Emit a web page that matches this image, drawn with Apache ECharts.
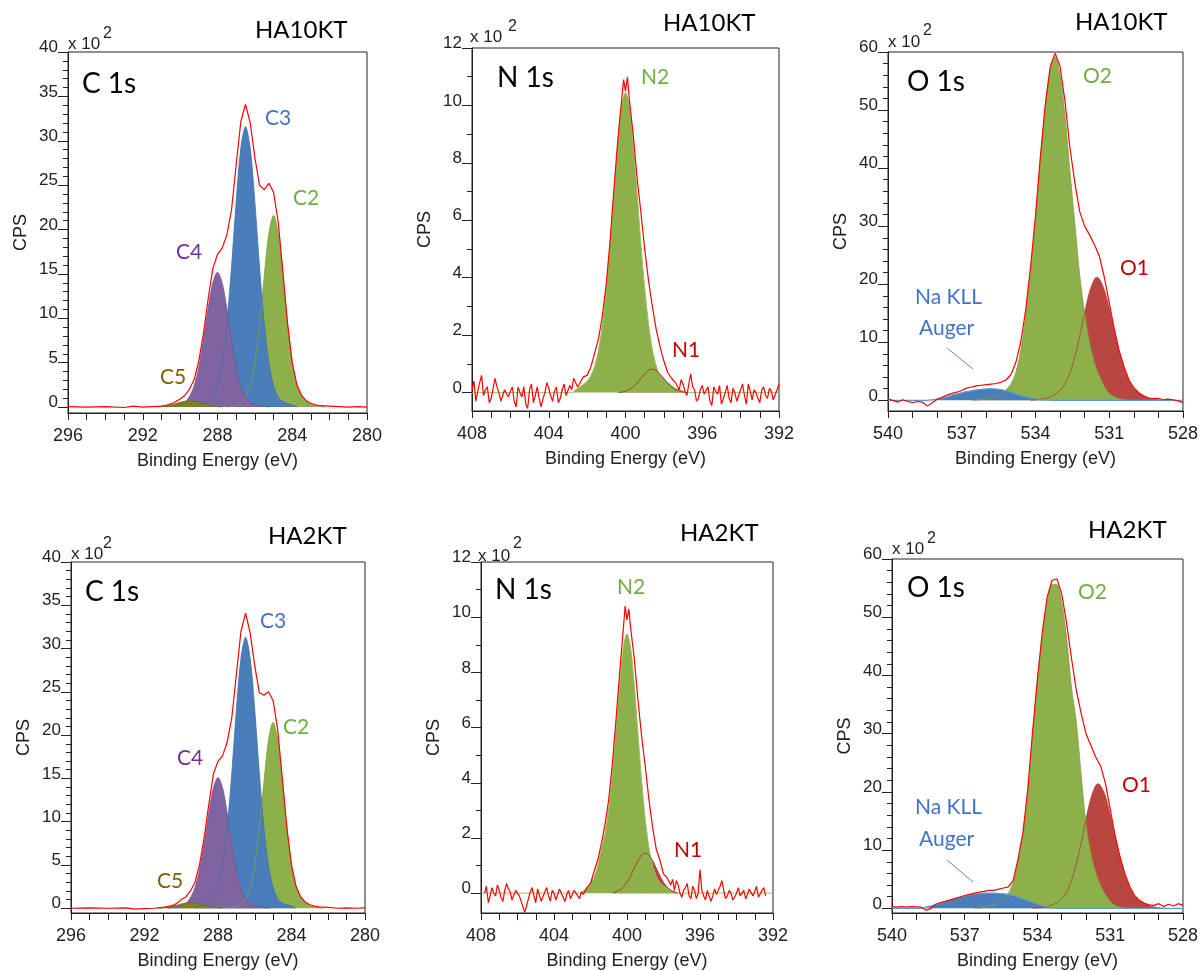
<!DOCTYPE html>
<html><head><meta charset="utf-8">
<script src="https://cdn.jsdelivr.net/npm/echarts@6/dist/echarts.min.js"></script>
<style>html,body{margin:0;padding:0;background:#fff}#c{width:1201px;height:971px}</style>
</head><body><div id="c"></div>
<script>
// ================= DATA (CPS in units of 10^2) =================
const sampleTitles = ['HA10KT', 'HA10KT', 'HA10KT', 'HA2KT', 'HA2KT', 'HA2KT'];
const regionNames = ['C 1s', 'N 1s', 'O 1s', 'C 1s', 'N 1s', 'O 1s'];
const cPeakNames = ['C3', 'C2', 'C4', 'C5'];
const nPeakNames = ['N2', 'N1'];
const oPeakNames = ['O2', 'O1', 'Na KLL', 'Auger'];

const cXLabels = [280, 284, 288, 292, 296];
const nXLabels = [392, 396, 400, 404, 408];
const oXLabels = [528, 531, 534, 537, 540];
const cYMajor = [0, 5, 10, 15, 20, 25, 30, 35, 40];
const cYMinor = [1, 2, 3, 4, 6, 7, 8, 9, 11, 12, 13, 14, 16, 17, 18, 19, 21, 22, 23, 24, 26, 27, 28, 29, 31, 32, 33, 34, 36, 37, 38, 39];
const nYMajor = [0, 2, 4, 6, 8, 10, 12];
const nYMinor = [1, 3, 5, 7, 9, 11];
const oYMajor = [0, 10, 20, 30, 40, 50, 60];
const oYMinor = [2, 4, 6, 8, 12, 14, 16, 18, 22, 24, 26, 28, 32, 34, 36, 38, 42, 44, 46, 48, 52, 54, 56, 58];

// ---- C 1s, HA10KT ----
const c10_C2 = [[287.5,0],[287.25,0.1],[287,0.2],[286.75,0.45],[286.5,1.0],[286.25,2.3],[286,4.9],[285.75,9.2],[285.5,14.7],[285.25,19.6],[285,21.6],[284.75,19.6],[284.5,14.7],[284.25,9.2],[284,4.9],[283.75,2.4],[283.5,1.2],[283.25,0.6],[283,0.3],[282.75,0.15],[282.5,0.05],[282.25,0]];
const c10_C3 = [[289.25,0],[289,0.25],[288.75,0.4],[288.5,0.6],[288.25,1.1],[288,2.4],[287.75,5.0],[287.5,9.4],[287.25,15.8],[287,23.1],[286.75,29.2],[286.5,31.6],[286.25,29.2],[286,23.1],[285.75,15.8],[285.5,9.4],[285.25,5.0],[285,2.4],[284.75,1.1],[284.5,0.6],[284.25,0.4],[284,0.25],[283.75,0]];
const c10_C4 = [[290.75,0],[290.5,0.1],[290.25,0.2],[290,0.3],[289.75,0.55],[289.5,1.2],[289.25,2.4],[289,4.5],[288.75,7.6],[288.5,11.1],[288.25,14.0],[288,15.2],[287.75,14.0],[287.5,11.1],[287.25,7.6],[287,4.5],[286.75,2.4],[286.5,1.2],[286.25,0.55],[286,0.3],[285.75,0.2],[285.5,0.1],[285.25,0]];
const c10_C5 = [[291.25,0],[291,0.07],[290.75,0.14],[290.5,0.24],[290.25,0.38],[290,0.53],[289.75,0.65],[289.5,0.7],[289.25,0.65],[289,0.53],[288.75,0.38],[288.5,0.24],[288.25,0.14],[288,0.07],[287.75,0]];
const c10_env = [[296,0.05],[295,0],[294,0.05],[293,-0.05],[292.5,0.1],[292,0],[291.5,0.05],[291,0.1],[290.75,0.2],[290.5,0.35],[290.25,0.6],[290,0.9],[289.75,1.3],[289.5,2.0],[289.25,3.1],[289,5.2],[288.75,8.3],[288.5,12.2],[288.25,15.6],[288,17.2],[287.75,17.9],[287.5,19.4],[287.25,22.2],[287,27.3],[286.75,32.2],[286.5,34.1],[286.25,32.0],[286,28.1],[285.75,25.0],[285.5,24.5],[285.25,25.2],[285,24.2],[284.75,20.8],[284.5,15.2],[284.25,9.4],[284,5.0],[283.75,2.5],[283.5,1.3],[283.25,0.7],[283,0.4],[282.75,0.25],[282.5,0.15],[282,0.1],[281.5,0.05],[281,0],[280.5,0.05],[280,0]];

// ---- N 1s, HA10KT ----
const n10_N2 = [[408,0],[402.8,0],[402.6,0.1],[402.4,0.2],[402.2,0.28],[402,0.4],[401.8,0.6],[401.6,0.94],[401.4,1.5],[401.2,2.4],[401,3.65],[400.8,5.2],[400.6,7.0],[400.4,8.7],[400.2,10.0],[400,10.45],[399.8,10.0],[399.6,8.7],[399.4,7.0],[399.2,5.2],[399,3.65],[398.8,2.4],[398.6,1.5],[398.4,0.94],[398.2,0.6],[398,0.42],[397.8,0.35],[397.6,0.25],[397.4,0.15],[397.2,0.12],[397,0.06],[396.8,0],[392,0]];
const n10_N1 = [[400.4,0],[400.2,0.02],[400,0.05],[399.8,0.11],[399.6,0.2],[399.4,0.33],[399.2,0.49],[399,0.64],[398.8,0.77],[398.6,0.82],[398.4,0.77],[398.2,0.64],[398,0.49],[397.8,0.33],[397.6,0.2],[397.4,0.11],[397.2,0.05],[397,0.02],[396.8,0]];
const n10_env = [[408,0.1],[407.9,0.4],[407.8,-0.3],[407.7,0.05],[407.6,0.35],[407.5,0.6],[407.4,-0.1],[407.3,0.1],[407.2,0.2],[407.1,-0.35],[407,-0.2],[406.9,0.15],[406.8,0.5],[406.7,0.2],[406.6,0],[406.5,-0.3],[406.4,-0.25],[406.3,0.1],[406.2,0.15],[406.1,-0.15],[406,0.05],[405.9,0.2],[405.8,-0.3],[405.7,-0.5],[405.6,0.2],[405.5,0],[405.4,-0.15],[405.3,0.2],[405.2,-0.4],[405.1,-0.55],[405,0.1],[404.9,0.3],[404.8,-0.35],[404.7,-0.1],[404.6,0.2],[404.5,-0.2],[404.4,-0.5],[404.3,-0.2],[404.2,0],[404.1,0.35],[404,0.15],[403.9,-0.1],[403.8,-0.3],[403.7,0.05],[403.6,0.2],[403.5,-0.35],[403.4,-0.2],[403.3,0.1],[403.2,0.3],[403.1,-0.1],[403,-0.15],[402.9,0.25],[402.8,0.1],[402.7,0.5],[402.6,0.45],[402.5,0.2],[402.4,0.3],[402.2,0.55],[402,0.6],[401.8,0.9],[401.6,1.4],[401.4,1.9],[401.2,2.7],[401,3.8],[400.8,5.3],[400.6,7.1],[400.4,8.8],[400.2,10.2],[400.1,10.9],[400,10.5],[399.9,11.0],[399.8,10.2],[399.6,9.0],[399.4,7.5],[399.2,6.3],[399,5.0],[398.8,3.9],[398.6,3.0],[398.4,2.2],[398.2,1.6],[398,1.1],[397.8,0.7],[397.6,0.5],[397.4,0.35],[397.2,0.1],[397.1,0.45],[397,0.3],[396.9,0.05],[396.8,-0.1],[396.7,0.3],[396.6,0.65],[396.5,0.2],[396.4,0.1],[396.3,-0.3],[396.2,-0.2],[396.1,0.1],[396,0.25],[395.9,-0.05],[395.8,-0.1],[395.7,0.2],[395.6,-0.3],[395.5,-0.45],[395.4,0.2],[395.3,0.05],[395.2,-0.05],[395.1,0.25],[395,-0.4],[394.9,-0.2],[394.8,0],[394.7,0.25],[394.6,-0.2],[394.5,-0.35],[394.4,0.15],[394.3,0],[394.2,-0.3],[394.1,-0.1],[394,0.1],[393.9,0.3],[393.8,-0.1],[393.7,-0.4],[393.6,0.3],[393.5,0.05],[393.4,-0.25],[393.3,0.1],[393.2,0],[393.1,-0.2],[393,-0.35],[392.9,0.1],[392.8,0.2],[392.7,-0.1],[392.6,-0.2],[392.5,0.15],[392.4,0.05],[392.3,-0.25],[392.2,-0.3],[392.1,0.1],[392,0.3]];

// ---- O 1s, HA10KT ----
const o10_O2 = [[536.6,0],[536.4,0.05],[536.2,0.15],[536,0.3],[535.8,0.5],[535.6,0.8],[535.4,1.2],[535.2,1.8],[535,2.8],[534.8,4.8],[534.6,8.5],[534.4,14.5],[534.2,22.0],[534,31.0],[533.8,41.5],[533.6,50.5],[533.4,57.0],[533.2,59.2],[533,56.0],[532.8,49.0],[532.6,39.5],[532.4,30.5],[532.2,21.5],[532,15.0],[531.8,10.0],[531.6,6.5],[531.4,4.2],[531.2,2.4],[531,1.2],[530.8,0.6],[530.6,0.3],[530.4,0.1],[530.2,0]];
const o10_O1 = [[534.2,0],[534,0.1],[533.8,0.2],[533.6,0.35],[533.4,0.6],[533.2,1.0],[533,1.7],[532.8,2.8],[532.6,4.7],[532.4,7.5],[532.2,11.1],[532,15.1],[531.8,18.7],[531.6,20.9],[531.5,21.2],[531.4,20.9],[531.2,19.0],[531,15.8],[530.8,12.0],[530.6,8.5],[530.4,5.6],[530.2,3.4],[530,2.0],[529.8,1.2],[529.6,0.7],[529.4,0.4],[529.2,0.2],[529,0.1],[528.8,0]];
const o10_Auger = [[540,0],[538.4,0],[538.2,0.1],[538,0.2],[537.8,0.35],[537.6,0.55],[537.4,0.9],[537.2,1.1],[537,1.3],[536.8,1.5],[536.6,1.65],[536.4,1.8],[536.2,1.9],[536,1.97],[535.8,2.0],[535.6,1.95],[535.4,1.85],[535.2,1.65],[535,1.4],[534.8,1.1],[534.6,0.85],[534.4,0.6],[534.2,0.4],[534,0.25],[533.8,0.15],[533.6,0.08],[533.4,0.04],[533.2,0],[528,0]];
const o10_env = [[540,0.2],[539.8,0],[539.6,-0.3],[539.4,0.1],[539.2,-0.2],[539,-0.4],[538.8,-0.2],[538.6,-0.3],[538.4,-1.0],[538.2,-0.4],[538,0.2],[537.8,0.5],[537.6,0.9],[537.4,1.2],[537.2,1.4],[537,1.7],[536.8,2.1],[536.6,2.3],[536.4,2.5],[536.2,2.6],[536,2.7],[535.8,2.8],[535.6,2.9],[535.4,3.1],[535.2,3.5],[535,4.4],[534.8,6.5],[534.6,10.0],[534.4,15.5],[534.2,23.0],[534,31.8],[533.8,42.0],[533.6,51.0],[533.4,57.5],[533.2,59.8],[533,57.5],[532.8,51.5],[532.6,43.5],[532.4,37.5],[532.2,32.5],[532,30.0],[531.8,28.5],[531.6,26.8],[531.4,24.8],[531.2,21.2],[531,16.8],[530.8,12.4],[530.6,8.6],[530.4,5.8],[530.2,3.5],[530,2.2],[529.8,1.3],[529.6,0.8],[529.4,0.4],[529.2,0.3],[529,0.35],[528.8,0.1],[528.6,0.2],[528.4,0.1],[528.2,-0.1],[528,-0.4]];

// ---- C 1s, HA2KT ----
const c2_C2 = [[287.5,0],[287.25,0.1],[287,0.2],[286.75,0.45],[286.5,1.0],[286.25,2.3],[286,4.9],[285.75,9.2],[285.5,14.6],[285.25,19.5],[285,21.5],[284.75,19.5],[284.5,14.6],[284.25,9.2],[284,4.9],[283.75,2.4],[283.5,1.2],[283.25,0.6],[283,0.3],[282.75,0.15],[282.5,0.05],[282.25,0]];
const c2_C3 = [[289.25,0],[289,0.25],[288.75,0.4],[288.5,0.6],[288.25,1.1],[288,2.4],[287.75,4.9],[287.5,9.3],[287.25,15.6],[287,22.9],[286.75,28.9],[286.5,31.3],[286.25,28.9],[286,22.9],[285.75,15.6],[285.5,9.3],[285.25,4.9],[285,2.4],[284.75,1.1],[284.5,0.6],[284.25,0.4],[284,0.25],[283.75,0]];
const c2_C4 = [[290.75,0],[290.5,0.1],[290.25,0.2],[290,0.3],[289.75,0.55],[289.5,1.2],[289.25,2.4],[289,4.5],[288.75,7.5],[288.5,11.0],[288.25,13.9],[288,15.1],[287.75,13.9],[287.5,11.0],[287.25,7.5],[287,4.5],[286.75,2.4],[286.5,1.2],[286.25,0.55],[286,0.3],[285.75,0.2],[285.5,0.1],[285.25,0]];
const c2_C5 = [[291.25,0],[291,0.06],[290.75,0.12],[290.5,0.22],[290.25,0.35],[290,0.5],[289.75,0.6],[289.5,0.65],[289.25,0.6],[289,0.5],[288.75,0.35],[288.5,0.22],[288.25,0.12],[288,0.06],[287.75,0]];
const c2_env = [[296,0],[295,0.05],[294,0],[293,0.05],[292.5,-0.1],[292,-0.05],[291.5,0],[291,0.1],[290.75,0.2],[290.5,0.3],[290.25,0.55],[290,1.0],[289.75,1.3],[289.5,2.0],[289.25,3.0],[289,5.1],[288.75,8.2],[288.5,12.0],[288.25,15.5],[288,17.0],[287.75,17.6],[287.5,19.2],[287.25,22.0],[287,27.0],[286.75,32.0],[286.5,34.1],[286.25,31.8],[286,28.0],[285.75,24.9],[285.5,24.6],[285.25,25.0],[285,24.0],[284.75,20.6],[284.5,15.0],[284.25,9.3],[284,5.0],[283.75,2.5],[283.5,1.3],[283.25,0.7],[283,0.4],[282.75,0.25],[282.5,0.15],[282,0.1],[281.5,0],[281,0.05],[280.5,0],[280,0.05]];

// ---- N 1s, HA2KT ----
const n2_N2 = [[408,0],[402.6,0],[402.4,0.08],[402.2,0.18],[402,0.35],[401.8,0.6],[401.6,1.0],[401.4,1.6],[401.2,2.2],[401,3.1],[400.8,4.4],[400.6,6.0],[400.4,7.6],[400.2,8.9],[400,9.4],[399.8,8.9],[399.6,7.55],[399.4,5.8],[399.2,4.1],[399,2.7],[398.8,1.66],[398.6,1.0],[398.4,0.6],[398.2,0.38],[398,0.26],[397.8,0.18],[397.6,0.1],[397.4,0],[392,0]];
const n2_N1 = [[400.8,0],[400.6,0.05],[400.4,0.11],[400.2,0.22],[400,0.39],[399.8,0.63],[399.6,0.91],[399.4,1.18],[399.2,1.38],[399,1.45],[398.8,1.38],[398.6,1.18],[398.4,0.91],[398.2,0.63],[398,0.39],[397.8,0.22],[397.6,0.11],[397.4,0.05],[397.2,0]];
const n2_env = [[407.8,0],[407.7,0.25],[407.6,-0.35],[407.5,-0.1],[407.4,0.2],[407.3,0],[407.2,-0.1],[407.1,0.3],[407,0.1],[406.9,-0.15],[406.8,-0.3],[406.7,0.1],[406.6,0.35],[406.5,0.15],[406.4,0.05],[406.3,-0.25],[406.2,-0.2],[406.1,0.1],[406,0.15],[405.9,-0.1],[405.8,-0.3],[405.7,-0.5],[405.6,-0.7],[405.5,-0.45],[405.4,-0.2],[405.3,0.05],[405.2,0.2],[405.1,-0.1],[405,-0.35],[404.9,0.15],[404.8,0.1],[404.7,-0.3],[404.6,-0.25],[404.5,0.05],[404.4,0.2],[404.3,-0.1],[404.2,-0.3],[404.1,0.1],[404,0],[403.9,-0.25],[403.8,-0.2],[403.7,0.15],[403.6,0.1],[403.5,-0.15],[403.4,-0.3],[403.3,-0.05],[403.2,0.1],[403.1,-0.2],[403,-0.15],[402.9,0.1],[402.8,0.05],[402.7,-0.1],[402.6,-0.2],[402.5,0.05],[402.4,-0.05],[402.2,0.2],[402,0.35],[401.8,0.8],[401.6,1.2],[401.4,1.8],[401.2,2.5],[401,3.4],[400.8,4.7],[400.6,6.3],[400.4,8.0],[400.2,9.6],[400.1,10.4],[400,9.9],[399.9,10.3],[399.8,9.6],[399.6,8.5],[399.4,7.0],[399.2,5.7],[399,4.6],[398.8,3.4],[398.6,2.4],[398.4,1.6],[398.2,1.2],[398,0.7],[397.8,0.55],[397.6,0.3],[397.5,0.5],[397.4,0.1],[397.3,0.45],[397.2,0.3],[397.1,0],[397,-0.15],[396.9,0.1],[396.8,0.2],[396.7,0.35],[396.6,-0.1],[396.5,-0.2],[396.4,0.25],[396.3,0.1],[396.2,-0.2],[396.1,0],[396,0.85],[395.9,0.1],[395.8,-0.1],[395.7,-0.25],[395.6,0.1],[395.5,0.05],[395.4,-0.3],[395.3,-0.1],[395.2,0.15],[395.1,-0.05],[395,0],[394.9,0.25],[394.8,0.45],[394.7,0.1],[394.6,-0.2],[394.5,-0.1],[394.4,0.1],[394.3,0],[394.2,-0.25],[394.1,-0.15],[394,0],[393.9,0.2],[393.8,-0.1],[393.7,0],[393.6,0.1],[393.5,-0.2],[393.4,-0.05],[393.3,0.15],[393.2,0.2],[393.1,-0.1],[393,0.05],[392.9,0.25],[392.8,-0.15],[392.7,-0.2],[392.6,0.1],[392.5,0.2],[392.4,-0.1]];

// ---- O 1s, HA2KT ----
const o2_O2 = [[536.6,0],[536.4,0.05],[536.2,0.15],[536,0.35],[535.8,0.6],[535.6,1.0],[535.4,1.6],[535.2,2.6],[535,4.5],[534.8,8.0],[534.6,12.5],[534.4,19.5],[534.2,29.5],[534,39.2],[533.8,46.5],[533.6,52.5],[533.4,55.6],[533.2,55.6],[533,52.5],[532.8,46.5],[532.6,38.0],[532.4,32.0],[532.2,23.0],[532,14.5],[531.8,9.5],[531.6,6.2],[531.4,4.0],[531.2,2.4],[531,1.2],[530.8,0.5],[530.6,0.2],[530.4,0]];
const o2_O1 = [[534.2,0],[534,0.1],[533.8,0.2],[533.6,0.35],[533.4,0.6],[533.2,1.0],[533,1.7],[532.8,2.8],[532.6,4.8],[532.4,7.6],[532.2,11.2],[532,15.3],[531.8,18.9],[531.6,21.1],[531.5,21.4],[531.4,21.1],[531.2,19.3],[531,16.0],[530.8,12.2],[530.6,8.7],[530.4,5.8],[530.2,3.6],[530,2.1],[529.8,1.3],[529.6,0.8],[529.4,0.45],[529.2,0.25],[529,0.1],[528.8,0]];
const o2_Auger = [[540,0],[538.8,0],[538.6,0.2],[538.4,0.4],[538.2,0.65],[538,0.9],[537.8,1.15],[537.6,1.4],[537.4,1.65],[537.2,1.9],[537,2.1],[536.8,2.3],[536.6,2.45],[536.4,2.55],[536.2,2.6],[536,2.6],[535.8,2.6],[535.6,2.55],[535.4,2.5],[535.2,2.4],[535,2.2],[534.8,1.9],[534.6,1.6],[534.4,1.3],[534.2,1.0],[534,0.7],[533.8,0.45],[533.6,0.25],[533.4,0.1],[533.2,0],[528,0]];
const o2_env = [[540,0.3],[539.8,0.2],[539.6,0.3],[539.4,0.2],[539.2,0.3],[539,0.25],[538.8,0.2],[538.6,-0.3],[538.4,-0.1],[538.2,0.7],[538,1.0],[537.8,1.2],[537.6,1.45],[537.4,1.7],[537.2,1.95],[537,2.2],[536.8,2.4],[536.6,2.6],[536.4,2.8],[536.2,2.9],[536,3.1],[535.8,3.1],[535.6,3.3],[535.4,3.5],[535.2,3.7],[535,4.8],[534.8,8.5],[534.6,13.0],[534.4,20.5],[534.2,30.5],[534,39.5],[533.8,47.5],[533.6,53.5],[533.4,56.3],[533.2,56.6],[533,54.0],[532.8,49.0],[532.6,43.0],[532.4,37.5],[532.2,33.5],[532,30.0],[531.8,28.0],[531.6,26.0],[531.4,24.5],[531.2,21.5],[531,17.0],[530.8,12.5],[530.6,8.9],[530.4,6.0],[530.2,3.8],[530,2.2],[529.8,1.4],[529.6,0.9],[529.4,0.6],[529.2,0.5],[529,0.8],[528.8,0.3],[528.6,0.7],[528.4,0.4],[528.2,0.8],[528,0.5]];

// ================= RENDERING =================
const AX = '#222';
const NUMF = '"Liberation Sans", Arial, sans-serif';
const TXTF = 'Lato, "Open Sans", sans-serif';
const COL = {
  env: '#FF0000',
  green: '#8DB04A', greenL: '#7E9F3C',
  blue: '#4A7EBB', blueL: '#3E6FAE',
  purple: '#8064A2', purpleL: '#6E5590',
  olive: '#80801C', oliveL: '#70700F',
  red: '#BA4642', redL: '#A63E38'
};

const layout = [
  { left: 68, top: 52, width: 299, height: 361, ymin: -0.67, ymax: 40, x: [280, 296], xl: cXLabels, yMaj: cYMajor, yMin: cYMinor },
  { left: 472, top: 48, width: 307, height: 363, ymin: -0.64, ymax: 12, x: [392, 408], xl: nXLabels, yMaj: nYMajor, yMin: nYMinor },
  { left: 888, top: 52, width: 296, height: 359, ymin: -1.84, ymax: 60, x: [528, 540], xl: oXLabels, yMaj: oYMajor, yMin: oYMinor },
  { left: 71, top: 562, width: 294, height: 353, ymin: -0.55, ymax: 40, x: [280, 296], xl: cXLabels, yMaj: cYMajor, yMin: cYMinor },
  { left: 481, top: 562, width: 292, height: 355, ymin: -0.72, ymax: 12, x: [392, 408], xl: nXLabels, yMaj: nYMajor, yMin: nYMinor },
  { left: 892, top: 559, width: 296, height: 356, ymin: -0.8, ymax: 60, x: [528, 540], xl: oXLabels, yMaj: oYMajor, yMin: oYMinor }
];

const grids = [], xAxes = [], yAxes = [], series = [];
layout.forEach((L, i) => {
  grids.push({ left: L.left, top: L.top, width: L.width, height: L.height, show: true, borderColor: AX, borderWidth: 1, backgroundColor: 'transparent' });
  xAxes.push({
    type: 'value', gridIndex: i, min: L.x[0], max: L.x[1], inverse: true, interval: 1,
    name: 'Binding Energy (eV)', nameLocation: 'middle', nameGap: 39,
    nameTextStyle: { fontFamily: NUMF, fontSize: 18, color: AX },
    axisLine: { show: true, onZero: false, lineStyle: { color: AX, width: 1 } },
    axisTick: { show: true, length: 7, lineStyle: { color: AX } },
    axisLabel: { show: true, margin: 14, fontFamily: NUMF, fontSize: 18, color: AX, showMinLabel: true, showMaxLabel: true,
      formatter: v => (L.xl.indexOf(Math.round(v)) >= 0 && Math.abs(v - Math.round(v)) < 1e-6) ? String(Math.round(v)) : '' },
    splitLine: { show: false }
  });
  yAxes.push({
    type: 'value', gridIndex: i, position: 'left', min: L.ymin, max: L.ymax,
    name: 'CPS', nameLocation: 'middle', nameGap: 38, nameRotate: 90,
    nameTextStyle: { fontFamily: NUMF, fontSize: 18, color: AX },
    axisLine: { show: true, onZero: false, lineStyle: { color: AX, width: 1 } },
    axisTick: { show: true, inside: false, length: 10, customValues: L.yMaj, lineStyle: { color: AX } },
    axisLabel: { show: true, customValues: L.yMaj, margin: 10, fontFamily: NUMF, fontSize: 17, color: AX, verticalAlign: 'bottom', lineHeight: 9 },
    splitLine: { show: false }
  });
  yAxes.push({
    type: 'value', gridIndex: i, position: 'left', offset: 0, min: L.ymin, max: L.ymax,
    axisLine: { show: false, onZero: false },
    axisTick: { show: true, inside: false, length: 5, customValues: L.yMin, lineStyle: { color: AX } },
    axisLabel: { show: false }, splitLine: { show: false }
  });
});

function fill(i, data, color) {
  series.push({ type: 'line', xAxisIndex: i, yAxisIndex: 2 * i, data, symbol: 'none', smooth: 0.3, silent: true,
    lineStyle: { width: 0 }, areaStyle: { color, opacity: 1 } });
}
function outline(i, data, color, w) {
  series.push({ type: 'line', xAxisIndex: i, yAxisIndex: 2 * i, data, symbol: 'none', smooth: 0.3, silent: true,
    lineStyle: { width: w || 0.8, color } });
}
function envelope(i, data) {
  series.push({ type: 'line', xAxisIndex: i, yAxisIndex: 2 * i, data, symbol: 'none', smooth: false, silent: true,
    lineStyle: { width: 1.2, color: COL.env } });
}

// C panels: green under blue under purple, olive on top
[[0, c10_C2, c10_C3, c10_C4, c10_C5, c10_env], [3, c2_C2, c2_C3, c2_C4, c2_C5, c2_env]].forEach(([i, g, b, p, o, e]) => {
  fill(i, g, COL.green); fill(i, b, COL.blue); fill(i, p, COL.purple); fill(i, o, COL.olive);
  outline(i, g, COL.greenL); outline(i, b, COL.blueL); outline(i, p, COL.purpleL); outline(i, o, COL.oliveL);
  envelope(i, e);
});
// N panels: N1 under N2
[[1, n10_N2, n10_N1, n10_env], [4, n2_N2, n2_N1, n2_env]].forEach(([i, g, r, e]) => {
  fill(i, r, COL.red); fill(i, g, COL.green);
  outline(i, g, '#9CC163', 1); outline(i, r, COL.redL, 1);
  envelope(i, e);
});
// O panels: O1 under O2 under Auger
[[2, o10_O2, o10_O1, o10_Auger, o10_env], [5, o2_O2, o2_O1, o2_Auger, o2_env]].forEach(([i, g, r, b, e]) => {
  fill(i, r, COL.red); fill(i, g, COL.green); fill(i, b, COL.blue);
  outline(i, r, COL.redL); outline(i, g, COL.greenL); outline(i, b, '#5B9BD5', 1.2);
  envelope(i, e);
});

// ---- text overlays ----
const graphic = [];
function txt(x, y, text, size, color, family) {
  graphic.push({ type: 'text', x, y, silent: true, style: { text, fontSize: size, fontFamily: family || TXTF, fill: color,
    align: 'left', verticalAlign: 'middle', textAlign: 'left', textVerticalAlign: 'middle' } });
}
const titlePos = [[255, 30], [663, 23], [1075, 22], [268, 536], [680, 533], [1088, 530]];
const regionPos = [[82, 84], [497, 78], [907, 82], [85, 592], [495, 590], [907, 588]];
const expPos = [[68, 44, 103, 34], [470, 37, 508, 27], [888, 42, 923, 31], [71, 554, 103, 544], [478, 556, 513, 544], [892, 549, 927, 539]];
for (let i = 0; i < 6; i++) {
  txt(titlePos[i][0], titlePos[i][1], sampleTitles[i], 24, '#000');
  txt(regionPos[i][0], regionPos[i][1], regionNames[i], 28, '#000');
  txt(expPos[i][0], expPos[i][1], 'x 10', 17, AX, NUMF);
  txt(expPos[i][2], expPos[i][3], '2', 16, AX, NUMF);
}
const LC = { C3: '#4472C4', C2: '#70AD47', C4: '#7030A0', C5: '#7F6000', N2: '#70AD47', N1: '#C00000', O2: '#70AD47', O1: '#C00000', Na: '#4472C4' };
[[265, 118], [293, 198], [176, 252], [160, 377]].forEach((p, k) => txt(p[0], p[1], cPeakNames[k], 21, LC[cPeakNames[k]]));
[[260, 621], [283, 727], [177, 758], [157, 881]].forEach((p, k) => txt(p[0], p[1], cPeakNames[k], 21, LC[cPeakNames[k]]));
[[641, 77], [672, 350]].forEach((p, k) => txt(p[0], p[1], nPeakNames[k], 21, LC[nPeakNames[k]]));
[[617, 587], [674, 850]].forEach((p, k) => txt(p[0], p[1], nPeakNames[k], 21, LC[nPeakNames[k]]));
[[1083, 76], [1120, 268], [915, 297], [919, 328]].forEach((p, k) => txt(p[0], p[1], oPeakNames[k], 21, k < 2 ? LC[oPeakNames[k]] : LC.Na));
[[1078, 592], [1122, 785], [915, 807], [919, 839]].forEach((p, k) => txt(p[0], p[1], oPeakNames[k], 21, k < 2 ? LC[oPeakNames[k]] : LC.Na));
graphic.push({ type: 'line', silent: true, shape: { x1: 947, y1: 348, x2: 973, y2: 369 }, style: { stroke: '#5B87C8', lineWidth: 1 } });
graphic.push({ type: 'line', silent: true, shape: { x1: 947, y1: 860, x2: 973, y2: 882 }, style: { stroke: '#5B87C8', lineWidth: 1 } });

const chart = echarts.init(document.getElementById('c'), null, { renderer: 'canvas', width: 1201, height: 971 });
chart.setOption({
  animation: false,
  backgroundColor: '#fff',
  grid: grids, xAxis: xAxes, yAxis: yAxes, series, graphic
});
</script>
</body></html>
